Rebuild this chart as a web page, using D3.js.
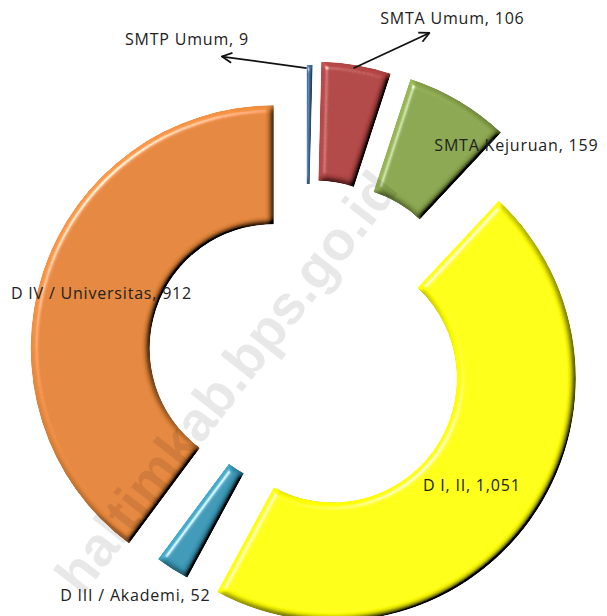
<!DOCTYPE html>
<html>
<head>
<meta charset="utf-8">
<script src="https://cdn.jsdelivr.net/npm/d3@7"></script>
<style>
  html, body { margin: 0; padding: 0; background: #fff; }
  svg { display: block; }
</style>
</head>
<body>
<div id="chart"></div>
<script>
const width = 607, height = 616;

// data
const categories = ["SMTP Umum", "SMTA Umum", "SMTA Kejuruan", "D I, II", "D III / Akademi", "D IV / Universitas"];
const values = [9, 106, 159, 1051, 52, 912];
const colors = ["#3f6c98", "#b24545", "#8ba74e", "#ffff00", "#3b98b6", "#e5873b"];

// layout
const center = [306, 359];
const outerR = 243, innerR = 124;
const explode = [51, 55, 57, 33, 6, 34];
// label shift from slice centroid
const labelShift = [[-122, -86], [106, -106], [88, -7], [-10, 0], [-69, 76], [2, 2]];
// arrow end relative to label centre (null = no arrow)
const arrowEnd = [[35, 18], [-23, 15], null, null, null, null];

const fmt = d3.format(",");

const svg = d3.select("#chart").append("svg")
  .attr("width", width)
  .attr("height", height);

const defs = svg.append("defs");

const f = defs.append("filter").attr("id", "bevel")
  .attr("x", "-10%").attr("y", "-10%").attr("width", "120%").attr("height", "120%");
f.append("feGaussianBlur").attr("in", "SourceAlpha").attr("stdDeviation", 3).attr("result", "blur");
f.append("feDiffuseLighting").attr("in", "blur").attr("surfaceScale", 6)
  .attr("diffuseConstant", 1).attr("lighting-color", "#fff").attr("result", "diff")
  .append("feDistantLight").attr("azimuth", 225).attr("elevation", 50);
f.append("feComposite").attr("in", "SourceGraphic").attr("in2", "diff")
  .attr("operator", "arithmetic").attr("k1", 1.3).attr("k2", 0).attr("k3", 0).attr("k4", 0)
  .attr("result", "lit");
f.append("feSpecularLighting").attr("in", "blur").attr("surfaceScale", 6)
  .attr("specularConstant", 0.9).attr("specularExponent", 40)
  .attr("lighting-color", "#fff").attr("result", "spec")
  .append("feDistantLight").attr("azimuth", 225).attr("elevation", 40);
f.append("feComposite").attr("in", "spec").attr("in2", "SourceAlpha")
  .attr("operator", "in").attr("result", "specIn");
f.append("feComposite").attr("in", "lit").attr("in2", "specIn")
  .attr("operator", "arithmetic").attr("k1", 0).attr("k2", 1).attr("k3", 0.7).attr("k4", 0)
  .attr("result", "out");
f.append("feComposite").attr("in", "out").attr("in2", "SourceAlpha").attr("operator", "in");

defs.append("marker")
  .attr("id", "arrow")
  .attr("viewBox", "0 0 12 12")
  .attr("refX", 11).attr("refY", 6)
  .attr("markerWidth", 12).attr("markerHeight", 12)
  .attr("markerUnits", "userSpaceOnUse")
  .attr("orient", "auto")
  .append("path")
  .attr("d", "M1,1 L11,6 L1,11")
  .attr("fill", "none")
  .attr("stroke", "#111")
  .attr("stroke-width", 1.8);

const pie = d3.pie().sort(null).value(d => d)(values);
const arc = d3.arc().innerRadius(innerR).outerRadius(outerR);
const outerArc = d3.arc().innerRadius(outerR).outerRadius(outerR);

const root = svg.append("g").attr("transform", `translate(${center[0]},${center[1]})`);

const offset = (d, i) => {
  const m = (d.startAngle + d.endAngle) / 2;
  return [Math.sin(m) * explode[i], -Math.cos(m) * explode[i]];
};

root.selectAll("path.slice")
  .data(pie)
  .join("path")
  .attr("class", "slice")
  .attr("transform", (d, i) => `translate(${offset(d, i)})`)
  .attr("d", arc)
  .attr("fill", (d, i) => colors[i])
  .attr("filter", "url(#bevel)");

// watermark
svg.append("text")
  .attr("transform", "translate(226,382) rotate(-52)")
  .attr("text-anchor", "middle")
  .attr("dominant-baseline", "central")
  .attr("font-family", "Liberation Sans, Arial, sans-serif")
  .attr("font-weight", "bold")
  .attr("font-size", 55)
  .attr("fill", "#000")
  .attr("fill-opacity", 0.09)
  .text("haltimkab.bps.go.id");

const labelPos = pie.map((d, i) => {
  const o = offset(d, i);
  const c = arc.centroid(d);
  return [c[0] + o[0] + labelShift[i][0], c[1] + o[1] + labelShift[i][1]];
});

// leader arrows
pie.forEach((d, i) => {
  if (!arrowEnd[i]) return;
  const o = offset(d, i);
  const p = outerArc.centroid(d);
  root.append("line")
    .attr("x1", p[0] + o[0] - 3).attr("y1", p[1] + o[1] + 3)
    .attr("x2", labelPos[i][0] + arrowEnd[i][0])
    .attr("y2", labelPos[i][1] + arrowEnd[i][1])
    .attr("stroke", "#111")
    .attr("stroke-width", 1.8)
    .attr("marker-end", "url(#arrow)");
});

root.selectAll("text.label")
  .data(pie)
  .join("text")
  .attr("class", "label")
  .attr("x", (d, i) => labelPos[i][0])
  .attr("y", (d, i) => labelPos[i][1])
  .attr("text-anchor", "middle")
  .attr("dominant-baseline", "central")
  .attr("font-family", "'Open Sans', sans-serif")
  .attr("font-size", 16)
  .attr("letter-spacing", 0.8)
  .attr("fill", "#222")
  .text((d, i) => `${categories[i]}, ${fmt(values[i])}`);
</script>
</body>
</html>
